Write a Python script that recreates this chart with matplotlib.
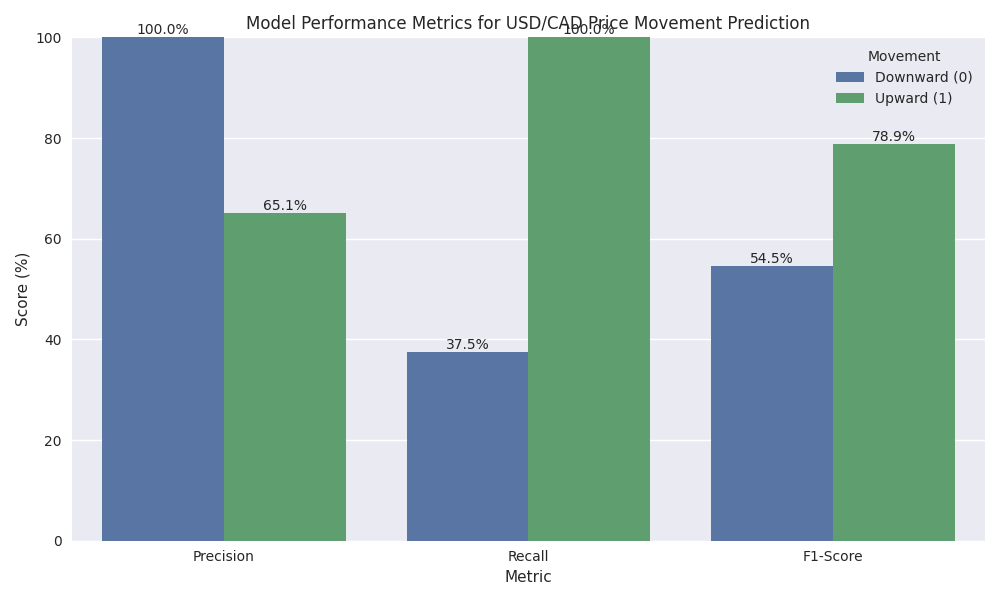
import matplotlib
matplotlib.use("Agg")
import matplotlib.pyplot as plt
import seaborn as sns
import pandas as pd

plt.style.use("seaborn-v0_8-darkgrid")
plt.rcParams.update({
    "font.family": ["DejaVu Sans"],
    "axes.labelsize": 11,
    "axes.titlesize": 12,
    "xtick.labelsize": 10,
    "ytick.labelsize": 10,
    "xtick.major.size": 3.5,
    "ytick.major.size": 3.5,
    "xtick.major.pad": 3.5,
    "ytick.major.pad": 3.5,
    "xtick.bottom": False,
    "ytick.left": False,
    "grid.linewidth": 1.0,
})

metrics = ["Precision", "Recall", "F1-Score"]
downward = [100.0, 37.5, 54.5]
upward = [65.1, 100.0, 78.9]
movement_labels = ["Downward (0)", "Upward (1)"]

df = pd.DataFrame({
    "Metric": metrics * 2,
    "Score": downward + upward,
    "Movement": [movement_labels[0]] * 3 + [movement_labels[1]] * 3,
})

deep = sns.color_palette("deep")
fig, ax = plt.subplots(figsize=(10, 6), dpi=100)
sns.barplot(data=df, x="Metric", y="Score", hue="Movement", ax=ax,
            palette=[deep[0], deep[2]])
for c in ax.containers:
    ax.bar_label(c, fmt="%.1f%%", fontsize=10)
ax.set_ylim(0, 100)
ax.tick_params(axis="both", which="both", bottom=False, left=False)
ax.set_title("Model Performance Metrics for USD/CAD Price Movement Prediction")
ax.set_xlabel("Metric")
ax.set_ylabel("Score (%)")
ax.legend(title="Movement")
fig.tight_layout()
fig.savefig("out.png")
